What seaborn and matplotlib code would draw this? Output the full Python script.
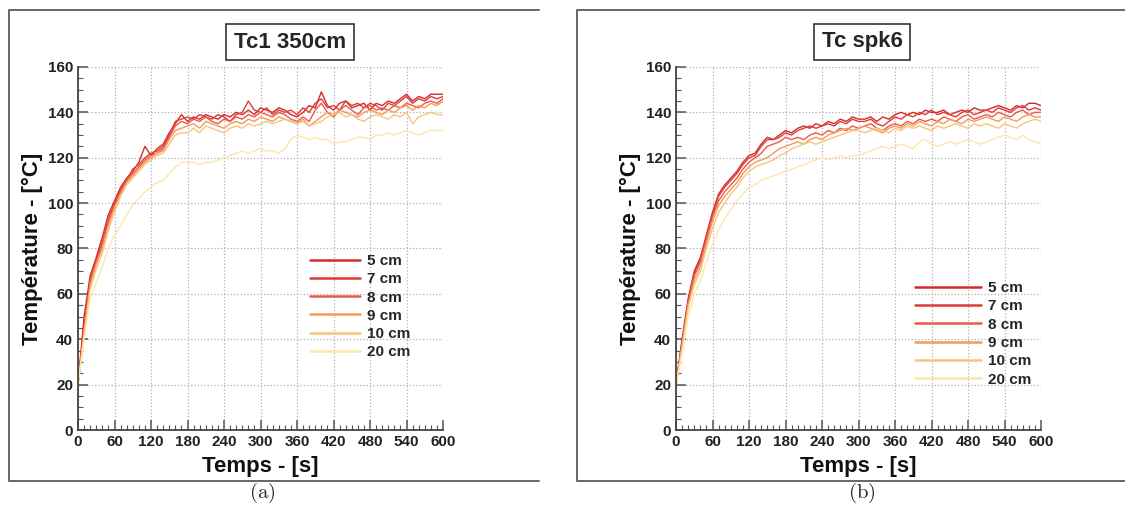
import numpy as np
import pandas as pd
import seaborn as sns
import matplotlib.pyplot as plt
from matplotlib.lines import Line2D
from matplotlib.ticker import MultipleLocator

# temps (s), un point toutes les 10 s
temps = list(range(0, 601, 10))
profondeurs = ['5 cm', '7 cm', '8 cm', '9 cm', '10 cm', '20 cm']
couleurs = ['#d42a2a', '#e03c35', '#ea5a48', '#f39a5c', '#f7c47e', '#fbe7a8']

# (a) Tc1 350cm
a_5cm = [20, 50, 68, 76, 85, 95, 101, 107, 111, 114, 118, 125, 121, 124, 126, 131, 135, 139, 136, 138,
         137, 139, 138, 137, 139, 138, 140, 139, 141, 139, 142, 141, 140, 142, 141, 139, 138, 140, 143, 142,
         149, 143, 141, 144, 145, 142, 143, 144, 141, 144, 143, 145, 144, 146, 148, 145, 147, 146, 148, 148, 148]
a_7cm = [20, 46, 66, 75, 83, 93, 100, 106, 110, 115, 117, 120, 122, 123, 125, 130, 136, 137, 138, 137,
         139, 138, 137, 139, 138, 136, 139, 140, 145, 141, 140, 142, 139, 141, 140, 141, 139, 142, 140, 144,
         146, 142, 143, 141, 145, 143, 144, 142, 144, 143, 141, 144, 143, 145, 147, 144, 146, 145, 147, 146, 147]
a_8cm = [20, 44, 65, 74, 82, 92, 99, 105, 110, 113, 116, 119, 121, 122, 124, 129, 134, 136, 135, 137,
         136, 138, 136, 135, 137, 136, 138, 137, 139, 138, 140, 139, 138, 140, 139, 137, 136, 138, 136, 141,
         144, 140, 138, 141, 143, 141, 139, 142, 143, 141, 142, 141, 143, 142, 144, 143, 142, 144, 145, 144, 146]
a_9cm = [20, 43, 64, 73, 80, 90, 98, 104, 109, 112, 115, 118, 120, 122, 123, 128, 132, 133, 134, 135,
         133, 136, 135, 134, 133, 135, 136, 135, 137, 136, 138, 137, 136, 138, 137, 136, 135, 137, 134, 136,
         138, 140, 139, 141, 140, 139, 138, 140, 141, 140, 139, 141, 140, 142, 143, 141, 143, 142, 144, 143, 145]
a_10cm = [20, 42, 62, 71, 78, 88, 96, 103, 108, 111, 114, 117, 119, 121, 122, 126, 130, 131, 131, 133,
          131, 134, 133, 132, 131, 133, 134, 133, 135, 134, 135, 136, 135, 136, 137, 136, 135, 136, 134, 135,
          136, 138, 139, 140, 138, 139, 137, 136, 138, 139, 138, 137, 139, 138, 140, 135, 138, 139, 140, 139, 139]
a_20cm = [20, 40, 58, 65, 72, 80, 86, 90, 95, 99, 102, 105, 107, 109, 110, 113, 116, 118, 118, 118,
          117, 118, 118, 119, 120, 121, 122, 123, 122, 123, 124, 123, 123, 122, 124, 128, 130, 129, 128, 129,
          128, 128, 126, 127, 127, 128, 129, 129, 128, 130, 130, 131, 130, 131, 132, 131, 130, 131, 132, 132, 132]

# (b) Tc spk6
b_5cm = [20, 40, 58, 70, 76, 86, 96, 104, 108, 111, 114, 118, 121, 122, 126, 129, 128, 130, 132, 131,
         133, 134, 133, 135, 134, 136, 135, 137, 136, 138, 137, 137, 138, 136, 138, 137, 139, 140, 139, 140,
         139, 141, 140, 140, 141, 139, 140, 141, 140, 142, 141, 141, 142, 143, 142, 141, 143, 142, 144, 144, 143]
b_7cm = [20, 39, 57, 69, 75, 85, 95, 103, 107, 110, 113, 117, 120, 121, 125, 128, 128, 129, 131, 130,
         132, 133, 134, 133, 134, 135, 134, 136, 135, 137, 136, 136, 137, 135, 134, 136, 138, 137, 139, 138,
         140, 139, 141, 139, 140, 139, 138, 140, 141, 139, 140, 141, 140, 142, 141, 140, 142, 143, 141, 142, 141]
b_8cm = [20, 38, 56, 68, 74, 84, 94, 101, 105, 108, 111, 115, 118, 120, 122, 125, 126, 127, 129, 128,
         129, 128, 130, 131, 130, 132, 131, 133, 132, 134, 133, 134, 135, 133, 132, 134, 135, 134, 136, 135,
         137, 136, 137, 136, 138, 137, 136, 138, 139, 137, 138, 139, 138, 140, 139, 138, 140, 141, 139, 140, 140]
b_9cm = [20, 37, 55, 66, 72, 82, 92, 99, 103, 106, 109, 113, 116, 118, 119, 120, 122, 124, 125, 126,
         127, 126, 128, 129, 128, 130, 131, 132, 133, 132, 133, 134, 133, 132, 131, 133, 134, 133, 135, 134,
         136, 135, 134, 136, 135, 137, 136, 135, 137, 136, 137, 138, 137, 136, 138, 137, 136, 138, 139, 138, 138]
b_10cm = [20, 36, 54, 64, 70, 80, 89, 96, 100, 104, 107, 111, 114, 116, 117, 118, 119, 121, 122, 124,
          125, 126, 127, 126, 127, 128, 129, 130, 131, 132, 132, 131, 132, 133, 132, 131, 133, 132, 134, 133,
          134, 133, 132, 134, 133, 134, 135, 134, 133, 135, 134, 135, 134, 133, 135, 134, 133, 135, 136, 137, 136]
b_20cm = [20, 34, 50, 60, 66, 74, 82, 88, 93, 97, 101, 104, 107, 108, 110, 111, 112, 113, 114, 115,
          116, 117, 118, 119, 120, 119, 120, 121, 120, 121, 121, 122, 123, 124, 125, 124, 125, 126, 125, 124,
          127, 128, 126, 125, 126, 127, 126, 127, 128, 127, 126, 127, 128, 129, 130, 129, 128, 130, 128, 127, 126]

titres = ['Tc1 350cm', 'Tc spk6']
legendes = ['(a)', '(b)']
series = [[a_5cm, a_7cm, a_8cm, a_9cm, a_10cm, a_20cm],
          [b_5cm, b_7cm, b_8cm, b_9cm, b_10cm, b_20cm]]

sns.set_style("white")
plt.rcParams['font.family'] = ['Liberation Sans', 'DejaVu Sans']
plt.rcParams['mathtext.fontset'] = 'cm'

fig = plt.figure(figsize=(11.25, 5.18), dpi=100)
W, H = 1125, 518

# positions en pixels des axes, du cadre (gauche, droite), du titre et de la legende (a)/(b)
ax_x = [(78, 443), (676, 1041)]
cadre_x = [(9, 539), (577, 1125)]
titre_x = [290, 862]
sous_x = [262, 862]
legende_pos = [(0.635, 0.485, 3.3), (0.655, 0.41, 4.3)]

for i in range(2):
    x0, x1 = ax_x[i]
    ax = fig.add_axes([x0 / W, 88 / H, (x1 - x0) / W, 363 / H])
    df = pd.DataFrame({'temps': temps})
    for nom, val, c in zip(profondeurs, series[i], couleurs):
        df[nom] = val
        sns.lineplot(data=df, x='temps', y=nom, color=c, linewidth=1.0, label=nom, ax=ax)

    ax.set_xlim(0, 600)
    ax.set_ylim(0, 160)
    ax.xaxis.set_major_locator(MultipleLocator(60))
    ax.xaxis.set_minor_locator(MultipleLocator(10))
    ax.yaxis.set_major_locator(MultipleLocator(20))
    ax.yaxis.set_minor_locator(MultipleLocator(5))
    ax.tick_params(which='both', direction='in', left=True, bottom=True, top=False, right=False,
                   color='#555555', labelsize=11, labelcolor='#222222')
    ax.tick_params(which='major', length=7, width=1.1)
    ax.tick_params(which='minor', length=3.5, width=0.8)
    for lab in ax.get_xticklabels() + ax.get_yticklabels():
        lab.set_fontweight('bold')
    ax.grid(True, which='major', linestyle=':', color='#b0b0b0', linewidth=0.9)
    for s in ['top', 'right']:
        ax.spines[s].set_visible(False)
    for s in ['left', 'bottom']:
        ax.spines[s].set_color('#444444')
        ax.spines[s].set_linewidth(1.3)

    ax.set_xlabel('Temps - [s]', fontsize=16, fontweight='bold', labelpad=5, color='#111111')
    ax.set_ylabel('Température - [°C]', fontsize=16, fontweight='bold', labelpad=3, color='#111111')

    lx, ly, hl = legende_pos[i]
    leg = ax.legend(loc='upper left', bbox_to_anchor=(lx, ly), frameon=False, handlelength=hl,
                    labelspacing=0.28, handletextpad=0.45, borderpad=0, borderaxespad=0,
                    prop={'weight': 'bold', 'size': 11})
    for h in leg.get_lines():
        h.set_linewidth(1.8)

    # cadre du panneau : gauche, haut et bas
    c0, c1 = cadre_x[i]
    yb, yt = (H - 481) / H, (H - 10) / H
    fig.lines.append(Line2D([c1 / W, c0 / W, c0 / W, c1 / W], [yt, yt, yb, yb], transform=fig.transFigure,
                            color='#666666', linewidth=1.4))
    fig.text(titre_x[i] / W, (H - 42) / H, titres[i], ha='center', va='center', fontsize=16,
             fontweight='bold', bbox=dict(boxstyle='square,pad=0.35', fc='white', ec='#333333', lw=1.2))
    fig.text(sous_x[i] / W, (H - 493) / H, r'$\mathrm{' + legendes[i] + '}$',
             ha='center', va='center', fontsize=15)

fig.savefig('out.png', dpi=100)
